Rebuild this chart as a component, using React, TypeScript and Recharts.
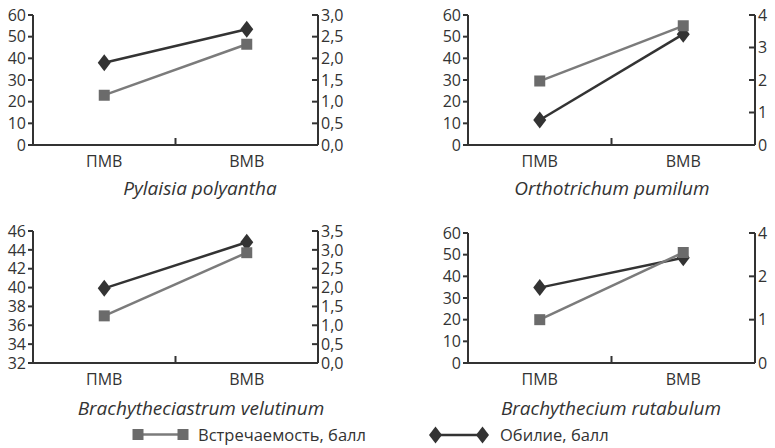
import React from 'react';
import { LineChart, Line, XAxis, YAxis } from 'recharts';

const categories = ['ПМВ', 'ВМВ'];
const occurrenceName = 'Встречаемость, балл';
const abundanceName = 'Обилие, балл';

const titles = ['Pylaisia polyantha', 'Orthotrichum pumilum', 'Brachytheciastrum velutinum', 'Brachythecium rutabulum'];

const pylaisiaOccurrence = [23, 46.5];
const pylaisiaAbundance = [1.9, 2.67];
const orthotrichumOccurrence = [29.5, 55];
const orthotrichumAbundance = [0.77, 3.41];
const brachytheciastrumOccurrence = [37, 43.7];
const brachytheciastrumAbundance = [1.98, 3.2];
const brachytheciumOccurrence = [20, 51];
const brachytheciumAbundance = [1.74, 2.43];

const leftTicks60 = [0, 10, 20, 30, 40, 50, 60];
const leftLabels60 = ['0', '10', '20', '30', '40', '50', '60'];
const leftTicks46 = [32, 34, 36, 38, 40, 42, 44, 46];
const leftLabels46 = ['32', '34', '36', '38', '40', '42', '44', '46'];
const rightTicks30 = [0, 0.5, 1, 1.5, 2, 2.5, 3];
const rightLabels30 = ['0,0', '0,5', '1,0', '1,5', '2,0', '2,5', '3,0'];
const rightTicks35 = [0, 0.5, 1, 1.5, 2, 2.5, 3, 3.5];
const rightLabels35 = ['0,0', '0,5', '1,0', '1,5', '2,0', '2,5', '3,0', '3,5'];
const rightTicks4 = [0, 1, 2, 3, 4];
const rightLabels4 = ['0', '1', '2', '3', '4'];
const rightTicksRut = [0, 1, 2, 3];
const rightLabelsRut = ['0', '1', '2', '4'];

const FONT = '"Open Sans", "Noto Sans", sans-serif';
const AX = '#333333';
const TXT = '#333333';
const GRAY_LINE = '#7b7b7b';
const GRAY_MARK = '#6b6b6b';
const DARK = '#333333';

const LW = 30;
const RW = 15;
const XH = 30;

type Box = { left: number; top: number; width: number; height: number };
type Plot = { l: number; t: number; r: number; b: number };

const panelLayouts: { box: Box; plot: Plot; titleX: number; titleY: number }[] = [
  { box: { left: 0, top: 0, width: 387, height: 210 }, plot: { l: 33, t: 15, r: 318, b: 145 }, titleX: 200, titleY: 195 },
  { box: { left: 387, top: 0, width: 388, height: 210 }, plot: { l: 468, t: 15, r: 755, b: 145 }, titleX: 612, titleY: 195 },
  { box: { left: 0, top: 210, width: 387, height: 210 }, plot: { l: 33, t: 231, r: 318, b: 363 }, titleX: 201, titleY: 415 },
  { box: { left: 387, top: 210, width: 388, height: 210 }, plot: { l: 468, t: 233, r: 755, b: 363 }, titleX: 611, titleY: 415 },
];

const squarePath = (cx: number, cy: number) => `M${cx - 5.5},${cy - 5.5}h11v11h-11z`;
const diamondPath = (cx: number, cy: number) => `M${cx},${cy - 8.5}L${cx + 6.5},${cy}L${cx},${cy + 8.5}L${cx - 6.5},${cy}Z`;

const renderSquare = (p: any) => (
  <path key={`sq-${p.index}`} d={squarePath(p.cx, p.cy)} fill={GRAY_MARK} />
);
const renderDiamond = (p: any) => (
  <path key={`di-${p.index}`} d={diamondPath(p.cx, p.cy)} fill={DARK} />
);

const renderCatTick = (p: any) => {
  const { x, y, payload } = p;
  return (
    <text x={x} y={y + 22} textAnchor="middle" fontSize={16} fill={TXT} fontFamily={FONT}>
      {payload.value}
    </text>
  );
};

const makeLeftTick = (ticks: number[], labels: string[]) => (p: any) => {
  const { x, y, payload } = p;
  const i = ticks.indexOf(payload.value);
  return (
    <g>
      <line x1={x - 5} x2={x} y1={y} y2={y} stroke={AX} strokeWidth={2} />
      <text x={x - 7} y={y} dy="0.36em" textAnchor="end" fontSize={16} fill={TXT} fontFamily={FONT}>
        {labels[i]}
      </text>
    </g>
  );
};

const makeRightTick = (ticks: number[], labels: string[]) => (p: any) => {
  const { x, y, payload } = p;
  const i = ticks.indexOf(payload.value);
  return (
    <g>
      <line x1={x - 6} x2={x} y1={y} y2={y} stroke={AX} strokeWidth={2} />
      <text x={x + 3} y={y} dy="0.36em" textAnchor="start" fontSize={16} fill={TXT} fontFamily={FONT}>
        {labels[i]}
      </text>
    </g>
  );
};

function Panel(props: {
  occ: number[];
  abu: number[];
  leftTicks: number[];
  leftLabels: string[];
  rightTicks: number[];
  rightLabels: string[];
  box: Box;
  plot: Plot;
}) {
  const { occ, abu, leftTicks, leftLabels, rightTicks, rightLabels, box, plot } = props;
  const data = categories.map((c, i) => ({ cat: c, occ: occ[i], abu: abu[i] }));
  const margin = {
    top: plot.t - box.top,
    left: plot.l - box.left - LW,
    right: box.left + box.width - plot.r - RW,
    bottom: box.top + box.height - plot.b - XH,
  };
  const axisLine = { stroke: AX, strokeWidth: 2 };
  return (
    <div style={{ position: 'absolute', left: box.left, top: box.top, width: box.width, height: box.height }}>
      <LineChart width={box.width} height={box.height} data={data} margin={margin}>
        <XAxis
          dataKey="cat"
          xAxisId="x"
          scale="band"
          height={XH}
          axisLine={axisLine}
          tickLine={false}
          tickSize={0}
          tickMargin={0}
          interval={0}
          tick={renderCatTick}
        />
        <YAxis
          yAxisId="left"
          orientation="left"
          width={LW}
          domain={[leftTicks[0], leftTicks[leftTicks.length - 1]]}
          ticks={leftTicks}
          interval={0}
          allowDataOverflow
          axisLine={axisLine}
          tickLine={false}
          tickSize={0}
          tickMargin={0}
          tick={makeLeftTick(leftTicks, leftLabels)}
        />
        <YAxis
          yAxisId="right"
          orientation="right"
          width={RW}
          domain={[rightTicks[0], rightTicks[rightTicks.length - 1]]}
          ticks={rightTicks}
          interval={0}
          allowDataOverflow
          axisLine={axisLine}
          tickLine={false}
          tickSize={0}
          tickMargin={0}
          tick={makeRightTick(rightTicks, rightLabels)}
        />
        <Line
          xAxisId="x"
          yAxisId="right"
          dataKey="abu"
          name={abundanceName}
          stroke={DARK}
          strokeWidth={2.5}
          dot={renderDiamond}
          activeDot={false}
          isAnimationActive={false}
        />
        <Line
          xAxisId="x"
          yAxisId="left"
          dataKey="occ"
          name={occurrenceName}
          stroke={GRAY_LINE}
          strokeWidth={2.5}
          dot={renderSquare}
          activeDot={false}
          isAnimationActive={false}
        />
      </LineChart>
    </div>
  );
}

export default function App() {
  const series = [
    { occ: pylaisiaOccurrence, abu: pylaisiaAbundance, lt: leftTicks60, ll: leftLabels60, rt: rightTicks30, rl: rightLabels30 },
    { occ: orthotrichumOccurrence, abu: orthotrichumAbundance, lt: leftTicks60, ll: leftLabels60, rt: rightTicks4, rl: rightLabels4 },
    { occ: brachytheciastrumOccurrence, abu: brachytheciastrumAbundance, lt: leftTicks46, ll: leftLabels46, rt: rightTicks35, rl: rightLabels35 },
    { occ: brachytheciumOccurrence, abu: brachytheciumAbundance, lt: leftTicks60, ll: leftLabels60, rt: rightTicksRut, rl: rightLabelsRut },
  ];
  return (
    <div
      style={{
        position: 'absolute',
        left: 0,
        top: 0,
        width: 775,
        height: 448,
        background: '#ffffff',
        fontFamily: FONT,
        overflow: 'hidden',
      }}
    >
      {series.map((s, k) => (
        <Panel
          key={k}
          occ={s.occ}
          abu={s.abu}
          leftTicks={s.lt}
          leftLabels={s.ll}
          rightTicks={s.rt}
          rightLabels={s.rl}
          box={panelLayouts[k].box}
          plot={panelLayouts[k].plot}
        />
      ))}
      <svg
        width={775}
        height={448}
        style={{ position: 'absolute', left: 0, top: 0, pointerEvents: 'none' }}
      >
        {panelLayouts.map((pl, k) => {
          const bandW = (pl.plot.r - pl.plot.l) / categories.length;
          return (
            <g key={`b-${k}`}>
              {categories.slice(1).map((c, j) => {
                const bx = pl.plot.l + bandW * (j + 1);
                return (
                  <line key={c} x1={bx} x2={bx} y1={pl.plot.b} y2={pl.plot.b - 7} stroke={AX} strokeWidth={2} />
                );
              })}
            </g>
          );
        })}
        <g fontFamily={FONT} fill={TXT} fontStyle="italic" fontSize={19} textAnchor="middle">
          {panelLayouts.map((pl, k) => (
            <text key={titles[k]} x={pl.titleX} y={pl.titleY}>{titles[k]}</text>
          ))}
        </g>
        <line x1={138} x2={183} y1={434.5} y2={434.5} stroke={GRAY_LINE} strokeWidth={2.5} />
        <path d={squarePath(138, 434.5)} fill={GRAY_MARK} />
        <path d={squarePath(183, 434.5)} fill={GRAY_MARK} />
        <text x={198} y={441} fontSize={16.5} fill={TXT} fontFamily={FONT}>{occurrenceName}</text>
        <line x1={435.5} x2={482.5} y1={435} y2={435} stroke={DARK} strokeWidth={2.5} />
        <path d={diamondPath(435.5, 435)} fill={DARK} />
        <path d={diamondPath(482.5, 435)} fill={DARK} />
        <text x={500} y={441} fontSize={16.5} fill={TXT} fontFamily={FONT}>{abundanceName}</text>
      </svg>
    </div>
  );
}
